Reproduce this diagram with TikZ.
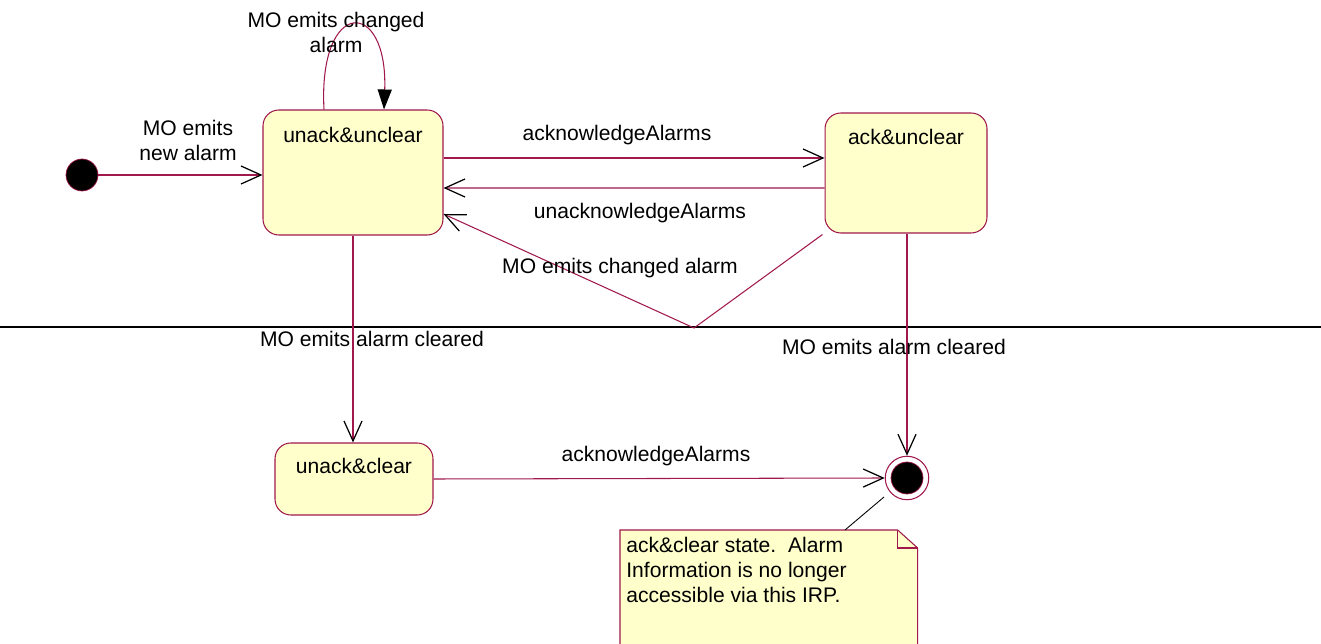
\documentclass[tikz,border=0pt]{standalone}
\usepackage{fontspec}
\setmainfont{Liberation Sans}
\usepackage{xcolor}
\usetikzlibrary{arrows.meta,positioning,calc}
\definecolor{wire}{HTML}{A0184C}
\definecolor{cream}{HTML}{FFFFCC}
\tikzset{
  state/.style={draw=wire,fill=cream,rounded corners=9pt,line width=0.6pt},
  caption/.style={font=\fontsize{12}{14.2}\selectfont,align=center,inner sep=0pt},
  trans/.style={draw=wire,line width=0.6pt,-{Straight Barb[length=4mm,width=3.6mm,color=black,line width=0.7pt]}},
  loopy/.style={draw=wire,line width=0.6pt,-{Triangle[length=4mm,width=2.8mm,color=black]}},
  start/.style={circle,draw=wire,fill=black,minimum size=0.64cm,inner sep=0pt},
  finring/.style={circle,draw=wire,fill=white,minimum size=0.87cm,inner sep=0pt,line width=0.6pt},
  findot/.style={circle,draw=wire,fill=black,minimum size=0.64cm,inner sep=0pt},
  notebox/.style={inner sep=0pt,anchor=north west}
}
\begin{document}
\begin{tikzpicture}[x=0.02cm,y=-0.02cm]
  \useasboundingbox (0,0) rectangle (1321,644);
  % states
  \node[start] (init) at (82,175) {};
  \node[state,minimum width=3.6cm,minimum height=2.5cm] (uu) at (353,172.5) {};
  \node[caption,anchor=north] (uutxt) at ($(uu.north)+(0,17)$) {unack\&unclear};
  \node[state,minimum width=3.24cm,minimum height=2.4cm] (au) at (906,173) {};
  \node[caption,anchor=north] (autxt) at ($(au.north)+(0,16)$) {ack\&unclear};
  \node[state,minimum width=3.16cm,minimum height=1.44cm] (uc) at (354,479) {};
  \node[caption,anchor=north] (uctxt) at ($(uc.north)+(0,15)$) {unack\&clear};
  \node[finring] (fin) at (907,478) {};
  \node[findot] (findot) at (fin) {};

  % divider
  \coordinate (divl) at (0,327);
  \coordinate (divr) at (1321,327);
  \draw[black,line width=0.6pt] (divl) -- (divr);

  % transitions
  \draw[trans] (init) -- (init -| uu.west);
  \draw[loopy] ($(uu.north)+(-29,0)$) .. controls ($(uu.north)+(-35,-112)$) and ($(uu.north)+(35,-112)$) .. ($(uu.north)+(31,0)$);
  \draw[trans] ($(uu.east)+(0,-14.5)$) -- ($(au.west)+(0,-15)$);
  \draw[trans] ($(au.west)+(0,15)$) -- ($(uu.east)+(0,15.5)$);
  \coordinate (dip) at (694,328);
  \draw[trans] ($(au.south west)+(-2,1)$) -- (dip) -- ($(uu.east)+(0,41.5)$);
  \draw[trans] (uu.south) -- (uu.south |- uc.north);
  \draw[trans] (au.south -| fin) -- (fin.north);
  \draw[trans] (uc.east) -- (fin.west);

  % note
  \node[notebox,minimum width=5.94cm,minimum height=2.4cm] (memo) at (620,530) {};
  \filldraw[draw=wire,fill=cream,line width=0.6pt] (memo.south west) -- (memo.north west)
    -- ($(memo.north east)+(-20,0)$) -- ($(memo.north east)+(0,18)$) -- (memo.south east);
  \draw[draw=wire,line width=0.6pt] ($(memo.north east)+(-20,0)$) -- ($(memo.north east)+(-20,18)$) -- ($(memo.north east)+(0,18)$);
  \node[caption,align=left,anchor=north west] (memotxt) at ($(memo.north west)+(6,7)$)
    {ack\&clear state.\ \ Alarm\\Information is no longer\\accessible via this IRP.};
  \draw[black,line width=0.5pt] ($(fin)+(-23,19)$) -- ($(memo.north west)+(225,0)$);

  % labels
  \node[caption] (lblnew) at (188,140) {MO emits\\new alarm};
  \node[caption] (lblloop) at (336,32) {MO emits changed\\alarm};
  \node[caption] (lblack) at (617,135) {acknowledgeAlarms};
  \node[caption] (lblunack) at (640,213) {unacknowledgeAlarms};
  \node[caption] (lblchg) at (620,268) {MO emits changed alarm};
  \node[caption] (lblclr) at (372,339) {MO emits alarm cleared};
  \node[caption] (lblclr2) at (894,347) {MO emits alarm cleared};
  \node[caption] (lblack2) at (656,456) {acknowledgeAlarms};
\end{tikzpicture}
\end{document}
